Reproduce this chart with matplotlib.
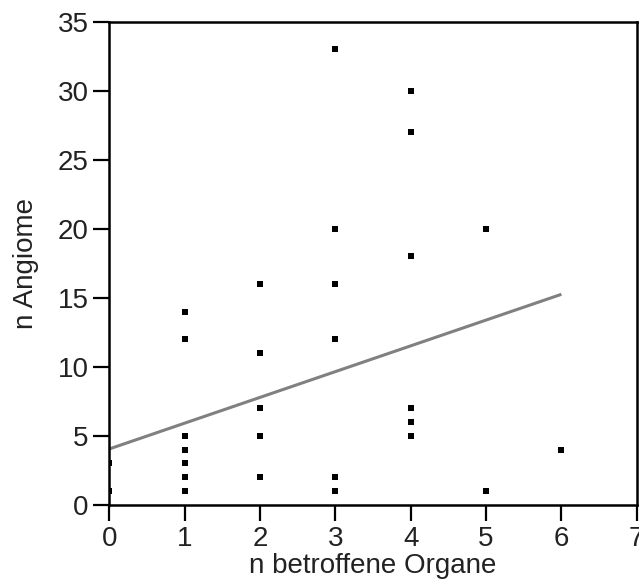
import matplotlib
matplotlib.use("Agg")
from matplotlib import pyplot as plt

plt.rcParams['font.family'] = ['Liberation Sans', 'DejaVu Sans']

# n betroffene Organe vs n Angiome
organe = [0, 0,
          1, 1, 1, 1, 1, 1, 1,
          2, 2, 2, 2, 2,
          3, 3, 3, 3, 3, 3,
          4, 4, 4, 4, 4, 4,
          5, 5,
          6]
angiome = [1, 3,
           1, 2, 3, 4, 5, 12, 14,
           2, 5, 7, 11, 16,
           1, 2, 12, 16, 20, 33,
           5, 6, 7, 18, 27, 30,
           1, 20,
           4]

fit_x = [0, 6]
fit_y = [4.05, 15.25]

xticks = [0, 1, 2, 3, 4, 5, 6, 7]
yticks = [0, 5, 10, 15, 20, 25, 30, 35]

fig = plt.figure(figsize=(6.39, 5.85), dpi=100)
ax = fig.add_axes([0.171, 0.137, 0.8255, 0.826])

ax.plot(fit_x, fit_y, color='#808080', linewidth=2.2, solid_capstyle='butt', zorder=2)
ax.plot(organe, angiome, 's', color='black', markersize=3.8, markeredgewidth=0, zorder=3)

ax.set_xlim(0, 7)
ax.set_ylim(0, 35)
ax.set_xticks(xticks)
ax.set_yticks(yticks)
ax.tick_params(direction='out', length=11.5, width=1.6, labelsize=20, pad=3.5,
               colors='black', labelcolor='#222222')
for s in ax.spines.values():
    s.set_linewidth(1.8)

ax.set_xlabel('n betroffene Organe', fontsize=20, color='#222222', labelpad=1)
ax.set_ylabel('n Angiome', fontsize=20, color='#222222', labelpad=13)

fig.savefig('out.png', dpi=100)
